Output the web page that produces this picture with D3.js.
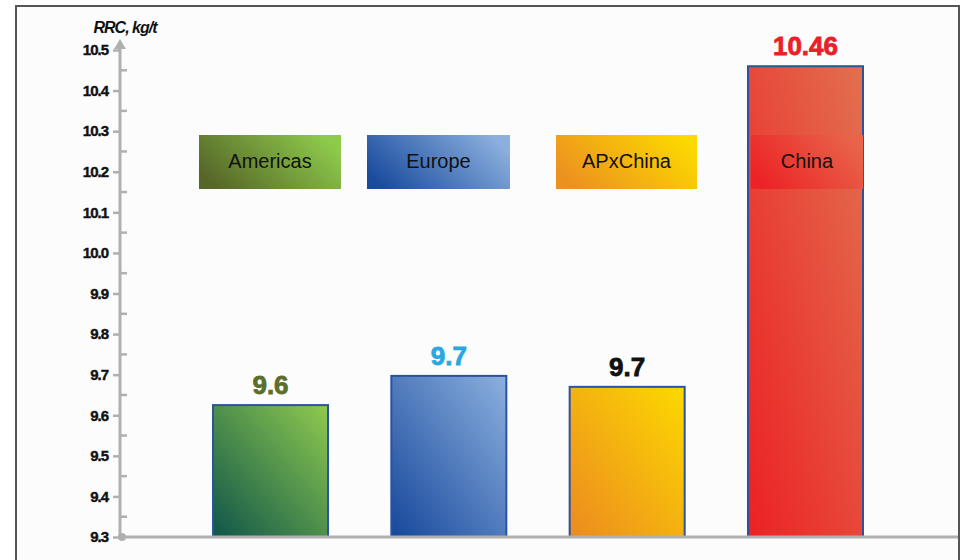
<!DOCTYPE html>
<html>
<head>
<meta charset="utf-8">
<script src="https://cdn.jsdelivr.net/npm/d3@7"></script>
<style>
  body { margin: 0; background: #fff; }
  text { font-family: "Liberation Sans", Arial, sans-serif; }
</style>
</head>
<body>
<div id="chart"></div>
<script>
// Data
const regions = ["Americas", "Europe", "APxChina", "China"];
const rrcValues = [9.625, 9.697, 9.67, 10.46];
const valueLabels = ["9.6", "9.7", "9.7", "10.46"];
const yTicks = [9.3, 9.4, 9.5, 9.6, 9.7, 9.8, 9.9, 10.0, 10.1, 10.2, 10.3, 10.4, 10.5];

const width = 961;
const height = 560;

// Styles per region
const labelColors = ["#5b6e2b", "#2aa7e1", "#111111", "#e8202a"];
const barGradients = [
  ["#0f5549", "#8fca4f"],
  ["#16479b", "#8cb0de"],
  ["#ec8a20", "#fcd900"],
  ["#ec2024", "#e2704f"]
];
const legendGradients = [
  ["#566628", "#8ecb4c"],
  ["#1a4c9e", "#8cb0de"],
  ["#ec9020", "#fcd900"],
  ["#ec2226", "#e8644a"]
];

const svg = d3.select("#chart")
  .append("svg")
    .attr("width", width)
    .attr("height", height);

// Frame
svg.append("rect")
    .attr("x", 16).attr("y", 6)
    .attr("width", 943).attr("height", 570)
    .attr("fill", "#fcfcfc")
    .attr("stroke", "#555")
    .attr("stroke-width", 2);

const defs = svg.append("defs");

barGradients.forEach((g, i) => {
  const lg = defs.append("linearGradient")
      .attr("id", `bar-grad-${i}`)
      .attr("x1", "0%").attr("y1", "100%")
      .attr("x2", "100%").attr("y2", "0%");
  lg.append("stop").attr("offset", "0%").attr("stop-color", g[0]);
  lg.append("stop").attr("offset", "100%").attr("stop-color", g[1]);
});
legendGradients.forEach((g, i) => {
  const lg = defs.append("linearGradient")
      .attr("id", `leg-grad-${i}`)
      .attr("x1", "0%").attr("y1", "70%")
      .attr("x2", "100%").attr("y2", "30%");
  lg.append("stop").attr("offset", "0%").attr("stop-color", g[0]);
  lg.append("stop").attr("offset", "100%").attr("stop-color", g[1]);
});

// Scales
const yScale = d3.scaleLinear()
  .domain([9.3, 10.5])
  .range([537, 50]);

const xScale = d3.scaleBand()
  .domain(regions)
  .range([213, 863])
  .paddingInner(0.355)
  .paddingOuter(0);

// Bars
svg.selectAll(".bar")
  .data(regions)
  .join("rect")
    .attr("class", "bar")
    .attr("x", d => xScale(d))
    .attr("y", (d, i) => yScale(rrcValues[i]))
    .attr("width", xScale.bandwidth())
    .attr("height", (d, i) => yScale(9.3) - yScale(rrcValues[i]))
    .attr("fill", (d, i) => `url(#bar-grad-${i})`)
    .attr("stroke", "#2c52a2")
    .attr("stroke-width", 2);

// Value labels
svg.selectAll(".value-label")
  .data(regions)
  .join("text")
    .attr("class", "value-label")
    .attr("x", d => xScale(d) + xScale.bandwidth() / 2)
    .attr("y", (d, i) => yScale(rrcValues[i]) - 11)
    .attr("text-anchor", "middle")
    .attr("font-size", 26)
    .attr("font-weight", "bold")
    .attr("stroke", (d, i) => labelColors[i])
    .attr("stroke-width", 0.8)
    .attr("fill", (d, i) => labelColors[i])
    .text((d, i) => valueLabels[i]);

// Legend boxes
const legendX = [199, 367, 556, 751];
const legendW = [142, 143, 141, 112];
const legend = svg.selectAll(".legend")
  .data(regions)
  .join("g")
    .attr("class", "legend")
    .attr("transform", (d, i) => `translate(${legendX[i]}, 135)`);
legend.append("rect")
    .attr("width", (d, i) => legendW[i])
    .attr("height", 54)
    .attr("fill", (d, i) => `url(#leg-grad-${i})`);
legend.append("text")
    .attr("x", (d, i) => legendW[i] / 2)
    .attr("y", 26)
    .attr("dy", "0.35em")
    .attr("text-anchor", "middle")
    .attr("font-size", 20)
    .attr("fill", "#111")
    .text(d => d);

// Axes
const axisColor = "#b0b0b0";
// x axis line
svg.append("line")
    .attr("x1", 120).attr("x2", 958)
    .attr("y1", yScale(9.3)).attr("y2", yScale(9.3))
    .attr("stroke", axisColor)
    .attr("stroke-width", 3);

const yAxis = svg.append("g")
    .attr("class", "axis-y")
    .attr("transform", "translate(120, 0)")
    .call(d3.axisLeft(yScale)
      .tickValues(yTicks)
      .tickFormat(d3.format(".1f"))
      .tickSize(7)
      .tickPadding(5));
yAxis.select(".domain")
    .attr("d", `M0,${yScale(9.3)}V${yScale(10.5) - 8}`)
    .attr("stroke", axisColor)
    .attr("stroke-width", 3);
yAxis.selectAll(".tick line")
    .attr("stroke", axisColor)
    .attr("stroke-width", 2.5);
yAxis.selectAll(".tick text")
    .attr("font-size", 15)
    .attr("font-weight", "bold")
    .attr("letter-spacing", -1)
    .attr("stroke", "#111")
    .attr("stroke-width", 0.4)
    .attr("fill", "#111");

// minor ticks to the right of the axis
const minorTicks = yTicks.slice(0, -1).map(d => d + 0.05);
svg.selectAll(".minor-tick")
  .data(minorTicks)
  .join("line")
    .attr("class", "minor-tick")
    .attr("x1", 120).attr("x2", 127)
    .attr("y1", d => yScale(d)).attr("y2", d => yScale(d))
    .attr("stroke", axisColor)
    .attr("stroke-width", 2.5);

// arrow head and origin dot
svg.append("path")
    .attr("d", `M114,${yScale(10.5) - 1}L120,${yScale(10.5) - 11}L126,${yScale(10.5) - 1}Z`)
    .attr("fill", axisColor);
svg.append("circle")
    .attr("cx", 122).attr("cy", yScale(9.3))
    .attr("r", 4)
    .attr("fill", axisColor);

// Axis title
svg.append("text")
    .attr("x", 125)
    .attr("y", 33)
    .attr("text-anchor", "middle")
    .attr("font-size", 16)
    .attr("font-weight", "bold")
    .attr("font-style", "italic")
    .attr("letter-spacing", -1)
    .attr("fill", "#111")
    .text("RRC, kg/t");
</script>
</body>
</html>
